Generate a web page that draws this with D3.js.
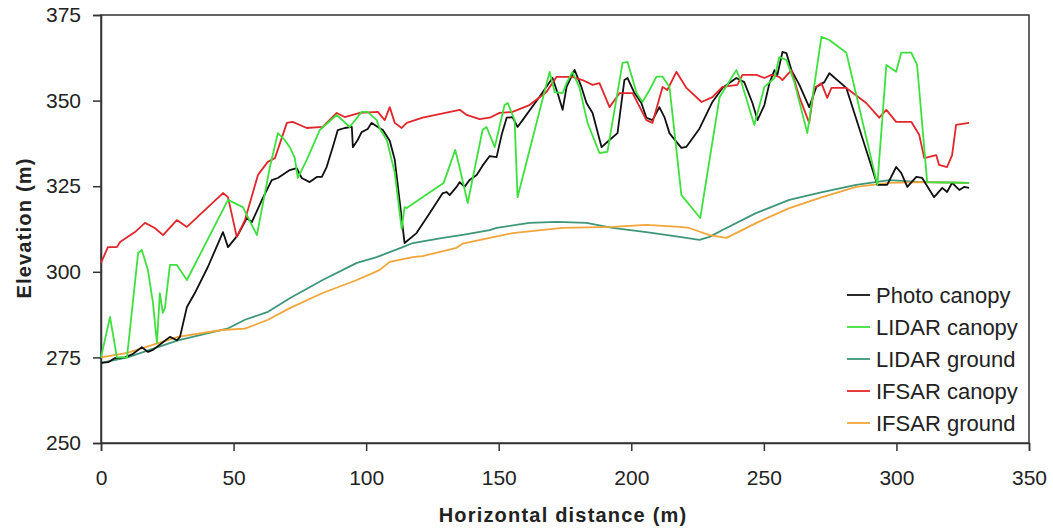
<!DOCTYPE html>
<html><head><meta charset="utf-8">
<script src="https://cdn.jsdelivr.net/npm/d3@7"></script>
<style>
body{margin:0;background:#fff;}
svg{display:block;font-family:"Liberation Sans",Arial,sans-serif;}
</style></head>
<body><svg id="c" width="1053" height="530"></svg>
<script>
const xTicks=[0,50,100,150,200,250,300,350];
const yTicks=[250,275,300,325,350,375];
const seriesNames=["Photo canopy","LIDAR canopy","LIDAR ground","IFSAR canopy","IFSAR ground"];
const seriesColors=["#111111","#3ee03e","#3d9776","#e2262b","#f2a53a"];

const photoCanopy=[[0,273.4],[2.7,273.6],[5.3,274.8],[9,275],[12,276],[15.4,278],[17.7,276.6],[19.6,277.2],[23,279.2],[26,281],[28.6,280],[29.8,281],[32.4,289.7],[35.4,293.8],[40.3,301.4],[46,311.6],[47.9,307.2],[51.6,310.7],[55,315.7],[56.9,314.5],[60.7,321],[64.4,326.8],[66.7,327.4],[71.2,329.7],[73.8,330.3],[75.7,327.4],[78.7,326.2],[81.4,327.7],[83.3,327.7],[85.1,330.6],[87.4,336.4],[89.3,341.4],[91.9,342],[94.6,342.3],[95,336.4],[96.8,338.5],[98.3,340.8],[100.6,341.7],[102,343.5],[104.4,342.3],[106.3,341.4],[108.9,338.3],[110.8,332.7],[114.5,308.4],[119,311.3],[124,317.2],[128.9,323],[130.4,323.3],[131.5,322.4],[134.1,324.8],[135.3,326.2],[137.1,324.8],[139,326.8],[141.7,328.3],[143.9,331],[146.6,333.8],[149.2,333.5],[151.1,340],[153,345],[155.2,345.2],[157.1,342.3],[159,344.3],[165.4,351.1],[170.3,356.6],[172.2,352.2],[174.1,347.3],[175.6,354],[178.6,359],[181.2,354],[183.1,349.3],[185.4,346.4],[188.8,336.4],[191.8,338.5],[194.8,340.5],[197.4,356],[198.6,356.6],[201.2,352.2],[203.8,349.3],[205.7,345],[208,344.3],[210.6,348.1],[212.5,345.2],[214.4,340.5],[215.5,339.4],[218.9,336.2],[220.8,336.5],[225.7,341.8],[230.6,349.6],[234.4,353.7],[239.6,356.6],[242.6,355.4],[245.7,349.3],[247.6,344.3],[250.2,348.7],[252.1,355.1],[254,358.9],[255.1,357.5],[257,364.2],[258.5,363.9],[260.4,358.9],[263.4,354.6],[267.1,348.1],[269.8,354],[272.8,355.4],[274.7,358],[281.1,353.7],[292.8,325.4],[296.5,325.4],[299.9,330.6],[301.8,328.9],[304.1,324.8],[307.5,327.7],[309.7,327.4],[314.2,321.8],[317.3,324.5],[319.1,323.3],[321,326],[323.7,323.9],[325.5,324.8],[327.4,324.5]];

const lidarCanopy=[[0,275],[3.4,286.8],[6,275],[9.8,275],[14,305.5],[15.4,306.4],[17.7,300.5],[19.6,290.9],[21.1,279.2],[22.2,293.8],[23.3,288],[24.1,289.4],[26,302],[28.6,302],[32.4,297.6],[47.9,321],[53.5,318.9],[58.8,310.7],[63.7,330.6],[66.7,340.5],[69.3,338.5],[71.2,336.4],[73.1,333.2],[74.2,327.4],[77.6,332.7],[82.5,341.4],[88.9,345.8],[93.8,342.3],[98.3,346.7],[100.6,346.7],[104,344.3],[105,342],[107.8,338.5],[110.8,328.9],[113.4,312.5],[114.5,318.9],[115.3,318.6],[129.2,325.9],[133.6,335.6],[135.3,330.3],[138.3,320.1],[143.9,341.4],[145.4,342.3],[148.5,336.4],[152.2,348.7],[153.4,349.3],[156,344.3],[157.1,321.8],[169.2,358.4],[171.1,352.5],[174.1,352.2],[175.6,355.1],[177.8,358.4],[180.5,353.7],[183.5,343.5],[188,334.7],[191,335],[196.7,361],[198.6,361.3],[202,352.2],[204.2,349.6],[206.9,353.1],[209.5,357],[211.8,357],[214.4,354],[218.9,322.4],[226,315.7],[233.3,351],[239.6,358.9],[241.5,355.4],[246.4,342.9],[250.2,354],[254,356.6],[255.8,362.7],[258.5,361.9],[261.5,355.4],[266.4,340.5],[271.7,368.6],[274.7,367.7],[281.1,364],[292.8,325.4],[296.2,360.4],[299.9,358.4],[301.8,364],[305.6,364],[307.8,360.4],[311.6,326.2],[327.4,326]];

const lidarGround=[[0,273.4],[10,275],[29,280],[48,283.5],[54.3,286],[63,288.3],[71.2,292.3],[83.6,297.6],[96.5,302.6],[104,304.3],[113.8,307.2],[117.6,308.4],[128.9,309.9],[136.4,310.8],[146.6,312.2],[149.2,312.8],[161.6,314.3],[171.8,314.6],[183.1,314.3],[192.9,312.8],[205.7,311.6],[218.2,310.2],[225.7,309.3],[229.5,310.2],[234.4,312.2],[247.2,317.2],[259.6,321],[272,323.3],[284.8,325.4],[297.3,326.8],[309.7,326.2],[327.4,326]];

const ifsarCanopy=[[0,302.6],[2.6,307.2],[6,307.2],[7.2,308.7],[12.8,311.6],[16.6,314.3],[20.3,312.8],[23.4,310.7],[28.6,315.1],[32.4,313.1],[46,323],[47.9,321.8],[51.2,310.2],[54.3,315.1],[59.2,328.3],[62.9,332.1],[65.6,333.2],[70.1,343.5],[72.3,343.8],[77.6,342],[83.6,342.3],[88.9,346.4],[91.9,345.2],[97.6,346.4],[104.4,346.7],[107,344.3],[108.9,348.1],[110.8,343.5],[113.4,342],[115.3,343.5],[121.3,345],[135.3,347.3],[137.9,345.8],[142.8,344.6],[146.6,345],[150.3,346.4],[155.2,346.7],[161.6,348.7],[168,352.5],[171.8,356.9],[177.8,356.9],[181.6,356],[185.4,354.6],[188,355.1],[191.8,348.1],[195.6,352.2],[200.5,352.2],[205.7,344.3],[208,343.5],[211.8,354],[213.6,353.1],[217,358.4],[220.8,353.7],[226.5,349.6],[230.6,351],[234.4,354],[240,354.6],[241.9,357.5],[247.2,357.5],[250.2,356.6],[252.8,357.5],[255.8,356.9],[257,356],[260.4,358.9],[263.4,351],[267.1,343.5],[269,353.7],[271.7,355.1],[273.9,350.8],[275.5,353.7],[281.1,353.7],[288.6,349.3],[293.5,345],[296.2,347.3],[299.9,343.8],[305.6,343.8],[308.6,340],[310.5,333.2],[315,334.1],[316.1,331.2],[319.1,330.6],[321,334.1],[322.5,342.9],[327.4,343.5]];

const ifsarGround=[[0,275],[10,276.3],[29,281],[45.6,283],[54.3,283.4],[63,286],[71.2,289.4],[83.6,293.8],[96.5,297.6],[105,300.5],[108.9,302.9],[117.6,304.3],[121.3,304.6],[134.1,307],[136.4,308.2],[146.6,309.9],[155.2,311.3],[174.1,312.8],[192.9,313.1],[205.7,313.7],[218.2,313.1],[221.9,312.8],[229.5,310.7],[235.9,309.9],[247.2,314.3],[259.6,318.6],[272,321.8],[284.8,324.8],[297.3,326],[309.7,326.2],[327.4,326]];

const seriesData=[photoCanopy,lidarCanopy,lidarGround,ifsarCanopy,ifsarGround];

const L=101,R=1029,T=15,B=443;
const svg=d3.select("#c");
const x=d3.scaleLinear().domain([0,350]).range([L,R]);
const y=d3.scaleLinear().domain([250,375]).range([B,T]);

// frame
svg.append("rect").attr("x",L).attr("y",T).attr("width",R-L).attr("height",B-T)
  .attr("fill","none").attr("stroke","#333").attr("stroke-width",1.5);

const xAxis=svg.append("g").attr("transform",`translate(0,${B})`)
  .call(d3.axisBottom(x).tickValues(xTicks).tickSize(8).tickPadding(19).tickFormat(d3.format("d")));
const yAxis=svg.append("g").attr("transform",`translate(${L},0)`)
  .call(d3.axisLeft(y).tickValues(yTicks).tickSize(8).tickPadding(12).tickFormat(d3.format("d")));
[xAxis,yAxis].forEach(g=>{
  g.selectAll("path").attr("stroke","#333").attr("stroke-width",1.5);
  g.selectAll("line").attr("stroke","#333").attr("stroke-width",1.5);
  g.selectAll("text").attr("font-size",21).attr("fill","#222").attr("font-family","Liberation Sans, Arial, sans-serif");
});

const line=d3.line().x(d=>x(d[0])).y(d=>y(d[1]));
const order=[2,4,0,3,1];
order.forEach(i=>{
  svg.append("path").datum(seriesData[i]).attr("d",line)
    .attr("fill","none").attr("stroke",seriesColors[i]).attr("stroke-width",1.8)
    .attr("stroke-linejoin","round");
});

// legend
const lg=svg.append("g");
seriesNames.forEach((n,i)=>{
  const yy=295+i*32;
  lg.append("line").attr("x1",847).attr("x2",870).attr("y1",yy).attr("y2",yy)
    .attr("stroke",seriesColors[i]).attr("stroke-width",1.8);
  lg.append("text").attr("x",876).attr("y",yy).attr("dy","0.35em")
    .attr("font-size",22).attr("fill","#222").text(n);
});

// axis titles
svg.append("text").attr("x",(L+R)/2-2).attr("y",522).attr("text-anchor","middle")
  .attr("font-size",20).attr("font-weight","bold").attr("letter-spacing","1.2px").attr("fill","#222")
  .text("Horizontal distance (m)");
svg.append("text").attr("transform","translate(31,228) rotate(-90)").attr("text-anchor","middle")
  .attr("font-size",20).attr("font-weight","bold").attr("letter-spacing","1.2px").attr("fill","#222")
  .text("Elevation (m)");
</script></body></html>
